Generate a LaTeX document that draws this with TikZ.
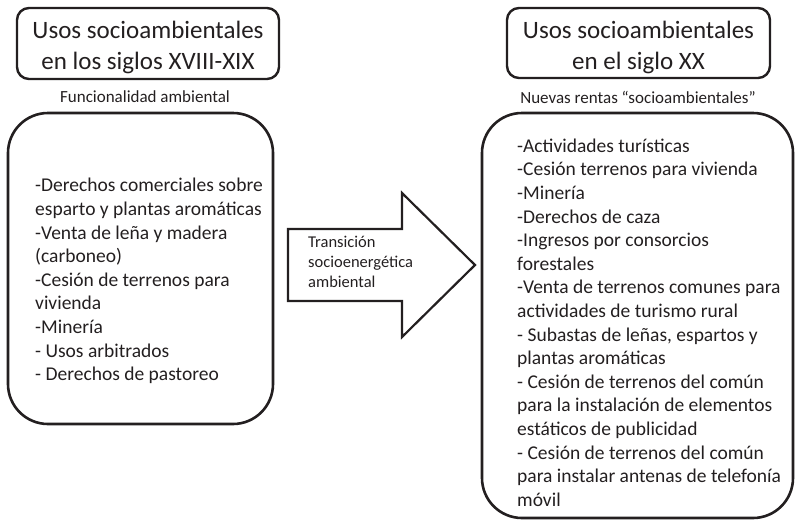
\documentclass[tikz,border=0pt]{standalone}
\usepackage{fontspec}
\setmainfont{Carlito}
\definecolor{ink}{HTML}{231F20}
\begin{document}
\begin{tikzpicture}[x=1pt,y=-1pt,
  titlebox/.style={draw=ink, line width=2.4pt, rounded corners=12pt, inner sep=0},
  bigbox/.style={draw=ink, line width=2.6pt, rounded corners=40pt, inner sep=0},
  titletext/.style={align=center, inner sep=0, text=ink, font=\fontsize{25}{30.5}\selectfont},
  captext/.style={inner sep=0, text=ink, font=\fontsize{17}{20.5}\selectfont},
  bodytext/.style={align=left, inner sep=0, anchor=west, text=ink, font=\fontsize{19.5}{23.6}\selectfont},
  arrowtext/.style={align=left, inner sep=0, anchor=west, text=ink, font=\fontsize{16.5}{20}\selectfont},
  arrowshape/.style={draw=ink, line width=2.2pt, line join=miter}
]
\useasboundingbox (0,0) rectangle (795,520);
\node[titlebox, minimum width=262pt, minimum height=71pt] (tl) at (148,43.5) {};
\node[titletext] (tlt) at (148,47.5) {Usos socioambientales\\en los siglos XVIII-XIX};
\node[titlebox, minimum width=263pt, minimum height=70pt] (tr) at (638.5,43) {};
\node[titletext] (trt) at (638.5,47.5) {Usos socioambientales\\en el siglo XX};
\node[captext] (lc) at (145,97) {Funcionalidad ambiental};
\node[captext] (rc) at (638,97) {Nuevas rentas “socioambientales”};
\node[bigbox, minimum width=265pt, minimum height=311pt] (lb) at (140.5,268.5) {};
\node[bodytext] (lbt) at (35,281) {-Derechos comerciales sobre\\esparto y plantas aromáticas\\-Venta de leña y madera\\(carboneo)\\-Cesión de terrenos para\\vivienda\\-Minería\\- Usos arbitrados\\- Derechos de pastoreo};
\node[bigbox, minimum width=311pt, minimum height=405pt] (rb) at (637.5,315.5) {};
\node[bodytext] (rbt) at (517,322.5) {-Actividades turísticas\\-Cesión terrenos para vivienda\\-Minería\\-Derechos de caza\\-Ingresos por consorcios\\forestales\\-Venta de terrenos comunes para\\actividades de turismo rural\\- Subastas de leñas, espartos y\\plantas aromáticas\\- Cesión de terrenos del común\\para la instalación de elementos\\estáticos de publicidad\\- Cesión de terrenos del común\\para instalar antenas de telefonía\\móvil};
\draw[arrowshape] (288,229) -- (402,229) -- (402,193) -- (475,265) -- (402,337) -- (402,301) -- (288,301) -- cycle;
\node[arrowtext] (at) at (308,262) {Transición\\socioenergética\\ambiental};
\end{tikzpicture}
\end{document}
